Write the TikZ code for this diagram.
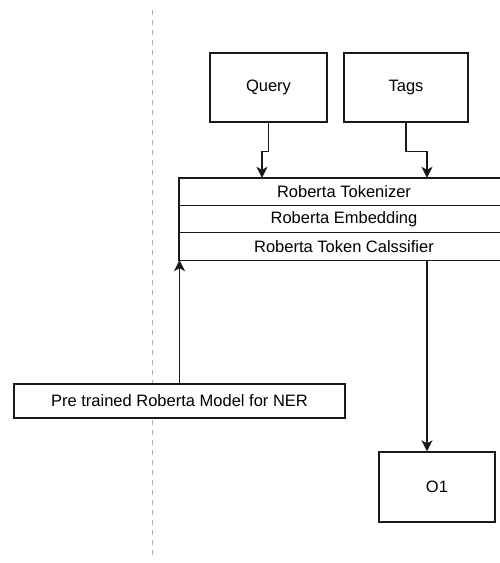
\documentclass[tikz,border=0pt]{standalone}
\usepackage{fontspec}
\setmainfont{Liberation Sans}
\usetikzlibrary{arrows.meta,calc}
\begin{document}
\begin{tikzpicture}[x=1pt,y=-1pt,
  txt/.style={font=\fontsize{16.5}{19}\selectfont},
  box/.style={txt,draw=black!90,line width=1.4pt,fill=white,inner sep=0pt,align=center},
  row/.style={txt,inner sep=0pt,minimum width=330pt,minimum height=27pt},
  arr/.style={draw=black!90,line width=1.4pt,-{Stealth[length=11pt,width=11pt,inset=3pt]}},
  sep/.style={draw=black!90,line width=1.4pt}]
\path[use as bounding box,clip] (0,0) rectangle (500,563);
\fill[white] (0,0) rectangle (500,563);
% dashed divider
\coordinate (dtop) at (152,10);
\coordinate (dbot) at (152,560);
\draw[black!30,line width=1pt,dash pattern=on 5pt off 5pt] (dtop) -- (dbot);
% input boxes
\node[box,minimum width=117pt,minimum height=69pt] (q) at (268.5,87.5) {Query};
\node[box,minimum width=124pt,minimum height=69pt] (t) at (406,87.5) {Tags};
% stack
\node[row] (tok) at (344,191.5) {Roberta Tokenizer};
\node[row] (emb) at (344,219) {Roberta Embedding};
\node[row] (cls) at (344,246.5) {Roberta Token Calssifier};
\draw[sep] (tok.north west) rectangle (cls.south east);
\draw[sep] (tok.south west) -- (tok.south east);
\draw[sep] (emb.south west) -- (emb.south east);
% pre-trained model and output
\node[box,minimum width=331pt,minimum height=34pt] (pre) at (179.5,401) {Pre trained Roberta Model for NER};
\node[box,minimum width=116pt,minimum height=70pt] (o) at (437,487) {O1};
% connectors
\coordinate (qx) at (262,0);
\coordinate (tx) at (427,0);
\draw[arr] (q.south) -- ++(0,29) -| (tok.north -| qx);
\draw[arr] (t.south) -- ++(0,29) -| (tok.north -| tx);
\draw[arr] (pre.north) -- (pre.north |- cls.south);
\draw[arr] (cls.south -| tx) -- (o.north -| tx);
\end{tikzpicture}
\end{document}
